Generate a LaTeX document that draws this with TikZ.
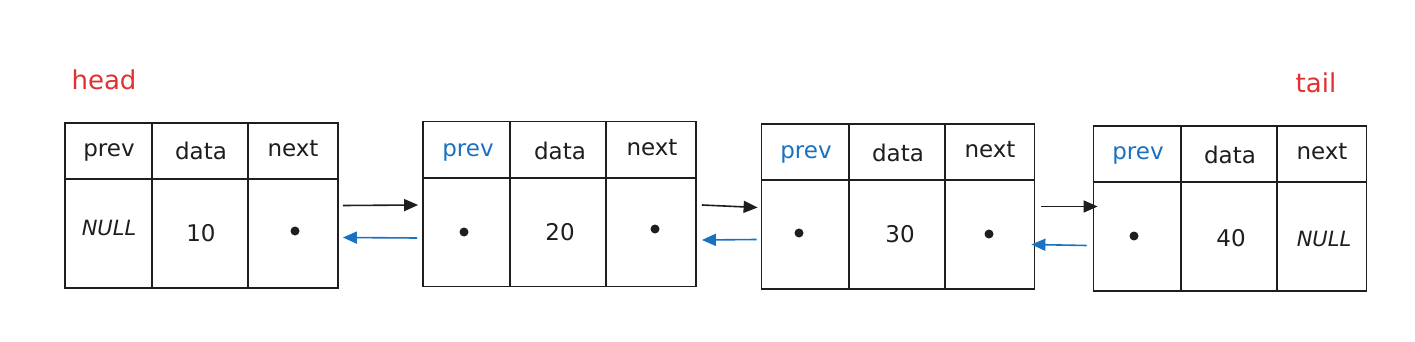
\documentclass[tikz,border=0pt]{standalone}
\usepackage{fontspec}
\setmainfont{DejaVu Sans}
\usetikzlibrary{arrows.meta}
\definecolor{ink}{HTML}{1E1E1E}
\definecolor{exred}{HTML}{E03131}
\definecolor{exblue}{HTML}{1971C2}
\tikzset{
  box/.style={draw=ink, line width=1.8pt, minimum width=273pt, minimum height=165pt, inner sep=0pt},
  divider/.style={draw=ink, line width=1.8pt},
  cell/.style={text=ink, font=\fontsize{23}{26}\selectfont, inner sep=0pt},
  hdr/.style={cell},
  hdrblue/.style={cell, text=exblue},
  nullt/.style={cell, font=\fontsize{21}{24}\selectfont\itshape},
  ptr/.style={circle, fill=ink, minimum size=9pt, inner sep=0pt},
  lbl/.style={text=exred, font=\fontsize{26}{30}\selectfont, inner sep=0pt},
  nextarrow/.style={draw=ink, line width=1.6pt, -{Triangle[length=14pt,width=12pt]}},
  prevarrow/.style={draw=exblue, line width=1.6pt, -{Triangle[length=14pt,width=12pt]}},
}
\begin{document}
\begin{tikzpicture}[x=1pt,y=-1pt]
\useasboundingbox[fill=white] (0,0) rectangle (1415,342);

% labels
\node[lbl] (head) at (104,80) {head};
\node[lbl] (tail) at (1316,83) {tail};

% boxes
\node[box] (b1) at (201.5,205.5) {};
\node[box] (b2) at (559.5,204) {};
\node[box] (b3) at (898,206.5) {};
\node[box] (b4) at (1230,208.5) {};

\foreach \b in {b1,b2,b3,b4}{
  \draw[divider] ([xshift=88pt]\b.north west) -- ([xshift=88pt]\b.south west);
  \draw[divider] ([xshift=184pt]\b.north west) -- ([xshift=184pt]\b.south west);
  \draw[divider] ([yshift=-57pt]\b.north west) -- ([yshift=-57pt]\b.north east);
}

% box 1
\node[hdr] (b1p) at (109,152) {prev};
\node[hdr] (b1d) at (201,151) {data};
\node[hdr] (b1n) at (293,149) {next};
\node[nullt] (b1v1) at (109,228) {NULL};
\node[cell] (b1v2) at (201,233) {10};
\node[ptr] (b1v3) at (295,231) {};

% box 2
\node[hdrblue] (b2p) at (468,152) {prev};
\node[hdr] (b2d) at (560,151) {data};
\node[hdr] (b2n) at (652,148) {next};
\node[ptr] (b2v1) at (464,232) {};
\node[cell] (b2v2) at (560,232) {20};
\node[ptr] (b2v3) at (655,229) {};

% box 3
\node[hdrblue] (b3p) at (806,154) {prev};
\node[hdr] (b3d) at (898,153) {data};
\node[hdr] (b3n) at (990,150) {next};
\node[ptr] (b3v1) at (799,233) {};
\node[cell] (b3v2) at (900,234) {30};
\node[ptr] (b3v3) at (989,234) {};

% box 4
\node[hdrblue] (b4p) at (1138,155) {prev};
\node[hdr] (b4d) at (1230,155) {data};
\node[hdr] (b4n) at (1322,152) {next};
\node[ptr] (b4v1) at (1134,236) {};
\node[cell] (b4v2) at (1231,238) {40};
\node[nullt] (b4v3) at (1324,239) {NULL};

% next arrows
\draw[nextarrow] ([xshift=4pt,yshift=0pt]b1.east) -- ([xshift=-4pt,yshift=-1pt]b2.west);
\draw[nextarrow] ([xshift=5pt,yshift=-1pt]b2.east) -- ([xshift=-3pt,yshift=-1pt]b3.west);
\draw[nextarrow] ([xshift=6pt,yshift=0pt]b3.east) -- ([xshift=5pt,yshift=2pt]b4.west);

% prev arrows
\draw[prevarrow] ([xshift=-5pt,yshift=-34pt]b2.west) -- ([xshift=4pt,yshift=-32pt]b1.east);
\draw[prevarrow] ([xshift=-4pt,yshift=-33pt]b3.west) -- ([xshift=5pt,yshift=-36pt]b2.east);
\draw[prevarrow] ([xshift=-6pt,yshift=-37pt]b4.west) -- ([xshift=-4pt,yshift=-38pt]b3.east);
\end{tikzpicture}
\end{document}
